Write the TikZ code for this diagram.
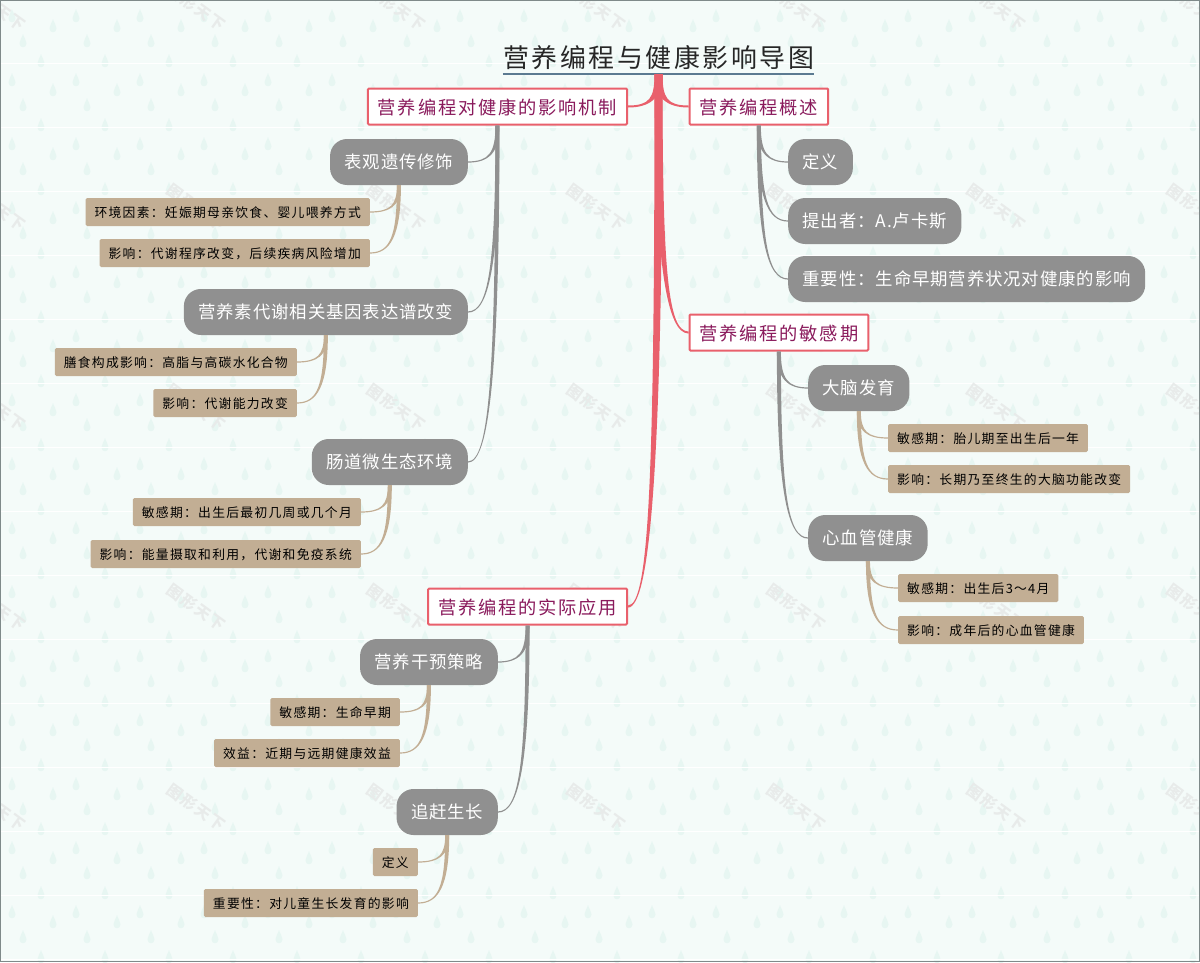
\documentclass[tikz,border=0pt]{standalone}
\usepackage{fontspec}
\setmainfont{Noto Sans CJK SC}[LetterSpace=10]
\newfontfamily\subfont{Noto Sans CJK SC}[LetterSpace=5]
\usetikzlibrary{calc}
\definecolor{paper}{HTML}{F4FBF9}
\definecolor{dropc}{HTML}{E7F6F2}
\definecolor{markc}{HTML}{E8EBEA}
\definecolor{framec}{HTML}{7F8A8A}
\definecolor{redc}{HTML}{E9606C}
\definecolor{plumc}{HTML}{8A1A5C}
\definecolor{greyc}{HTML}{909090}
\definecolor{tanc}{HTML}{C2AE94}
\definecolor{titlec}{HTML}{5B7A91}
\tikzset{
	titlebox/.style={inner xsep=0pt, minimum height=31pt, text=black!85, font=\fontsize{25.9}{30}\selectfont, text height=24pt, text depth=3pt},
	topicbox/.style={draw=redc, line width=2pt, fill=white, text=plumc, inner xsep=10pt, inner ysep=0pt, minimum height=36pt, rounded corners=1pt, font=\fontsize{18.25}{20}\selectfont, text height=18pt, text depth=2pt},
	subbox/.style={fill=greyc, text=white, inner xsep=14.5pt, inner ysep=0pt, minimum height=46pt, rounded corners=17pt, font=\subfont\fontsize{17.4}{18}\selectfont, text height=15.5pt, text depth=2pt},
	leafbox/.style={fill=tanc, text=black, inner xsep=9pt, inner ysep=0pt, minimum height=28pt, rounded corners=1.5pt, font=\fontsize{12.8}{14}\selectfont, text height=12pt, text depth=1pt},
	markbox/.style={text=markc, rotate=-36, inner sep=0pt, font=\fontsize{15.5}{16}\selectfont\bfseries}
}
%#1 colour, #2 half width at the parent, #3 half width at the child, #4 parent, #5 child, #6 side (1 right, -1 left)
\newcommand{\branch}[6]{
	\fill[#1] ($(#4)+(#6*#2,0)$) .. controls ($($(#4)!0.75!(#4 |- #5)$)+(#6*#2,0)$) and ($($(#4 |- #5)!0.3!(#5)$)+(0,-#3)$) .. ($(#5)+(0,-#3)$)
		-- ($(#5)+(0,#3)$) .. controls ($($(#4 |- #5)!0.3!(#5)$)+(0,#3)$) and ($($(#4)!0.75!(#4 |- #5)$)+(-#6*#2,0)$) .. ($(#4)+(-#6*#2,0)$) -- cycle;
}
\begin{document}
\begin{tikzpicture}[x=1pt,y=-1pt]
	\useasboundingbox (0,0) rectangle (1200,962);
	%Background
	\fill[paper] (0,0) rectangle (1200,962);
	\foreach \i in {0,...,18}
		\foreach \j in {0,...,15}
			\foreach \dx/\dy in {12/16,53/26,23/41,41/61}
				\fill[dropc, shift={(\i*64+\dx,\j*64+\dy)}] (0,-7) .. controls (1,-3) and (3.5,-1) .. (3.5,2.5) .. controls (3.5,7.5) and (-3.5,7.5) .. (-3.5,2.5) .. controls (-3.5,-1) and (-1,-3) .. cycle;
	\foreach \j in {0,...,14}
		\draw[white, line width=0.8pt] (0,\j*64+63.5) -- (1200,\j*64+63.5);
	%Watermark
	\foreach \i in {0,...,6}
		\foreach \j in {0,...,4}
			\node[markbox] (mark\i\j) at (\i*200-4,\j*200+7) {图形天下};
	\draw[framec, line width=1pt] (0.5,0.5) rectangle (1199.5,961.5);
	%Title
	\node[titlebox] (root) at (658.5,57) {营养编程与健康影响导图};
	\draw[titlec, line width=2pt] (root.south west) -- (root.south east);
	%Topics
	\node[topicbox, anchor=east] (mechanism) at (628,106.5) {营养编程对健康的影响机制};
	\node[topicbox, anchor=west] (overview) at (688.5,106.5) {营养编程概述};
	\node[topicbox, anchor=west] (window) at (688.5,332.5) {营养编程的敏感期};
	\node[topicbox, anchor=east] (practice) at (628,606.5) {营养编程的实际应用};
	%Left, mechanism
	\node[subbox, anchor=east] (epigen) at (468,162) {表观遗传修饰};
	\node[subbox, anchor=east] (genes) at (468,312) {营养素代谢相关基因表达谱改变};
	\node[subbox, anchor=east] (gut) at (468,462) {肠道微生态环境};
	\node[leafbox, anchor=east] (epigenA) at (370,212) {环境因素：妊娠期母亲饮食、婴儿喂养方式};
	\node[leafbox, anchor=east] (epigenB) at (370,253) {影响：代谢程序改变，后续疾病风险增加};
	\node[leafbox, anchor=east] (genesA) at (297,362) {膳食构成影响：高脂与高碳水化合物};
	\node[leafbox, anchor=east] (genesB) at (297,403) {影响：代谢能力改变};
	\node[leafbox, anchor=east] (gutA) at (361,512) {敏感期：出生后最初几周或几个月};
	\node[leafbox, anchor=east] (gutB) at (361,554) {影响：能量摄取和利用，代谢和免疫系统};
	%Left, practice
	\node[subbox, anchor=east] (diet) at (498,662) {营养干预策略};
	\node[subbox, anchor=east] (catch) at (498,812) {追赶生长};
	\node[leafbox, anchor=east] (dietA) at (400,712) {敏感期：生命早期};
	\node[leafbox, anchor=east] (dietB) at (400,753) {效益：近期与远期健康效益};
	\node[leafbox, anchor=east] (catchA) at (418,862) {定义};
	\node[leafbox, anchor=east] (catchB) at (418,903) {重要性：对儿童生长发育的影响};
	%Right, overview
	\node[subbox, anchor=west] (define) at (788,162) {定义};
	\node[subbox, anchor=west] (author) at (788,221) {提出者：A.卢卡斯};
	\node[subbox, anchor=west] (value) at (788,279) {重要性：生命早期营养状况对健康的影响};
	%Right, window
	\node[subbox, anchor=west] (brain) at (808,388) {大脑发育};
	\node[subbox, anchor=west] (heart) at (808,538) {心血管健康};
	\node[leafbox, anchor=west] (brainA) at (888,438) {敏感期：胎儿期至出生后一年};
	\node[leafbox, anchor=west] (brainB) at (888,479) {影响：长期乃至终生的大脑功能改变};
	\node[leafbox, anchor=west] (heartA) at (898,588) {敏感期：出生后3～4月};
	\node[leafbox, anchor=west] (heartB) at (898,630) {影响：成年后的心血管健康};
	%Connectors
	\branch{redc}{4}{1}{root.south}{mechanism.east}{-1}
	\branch{redc}{4}{1}{root.south}{overview.west}{1}
	\branch{redc}{4}{1}{root.south}{window.west}{1}
	\branch{redc}{4}{1}{root.south}{practice.east}{-1}
	\foreach \up/\down/\side in {mechanism/epigen.east/-1,mechanism/genes.east/-1,mechanism/gut.east/-1,practice/diet.east/-1,practice/catch.east/-1,overview/define.west/1,overview/author.west/1,overview/value.west/1,window/brain.west/1,window/heart.west/1}
		{\branch{greyc}{2}{0.6}{\up.south}{\down}{\side}}
	\foreach \up/\down/\side in {epigen/epigenA.east/-1,epigen/epigenB.east/-1,genes/genesA.east/-1,genes/genesB.east/-1,gut/gutA.east/-1,gut/gutB.east/-1,diet/dietA.east/-1,diet/dietB.east/-1,catch/catchA.east/-1,catch/catchB.east/-1,brain/brainA.west/1,brain/brainB.west/1,heart/heartA.west/1,heart/heartB.west/1}
		{\branch{tanc}{2}{0.6}{\up.south}{\down}{\side}}
\end{tikzpicture}
\end{document}
